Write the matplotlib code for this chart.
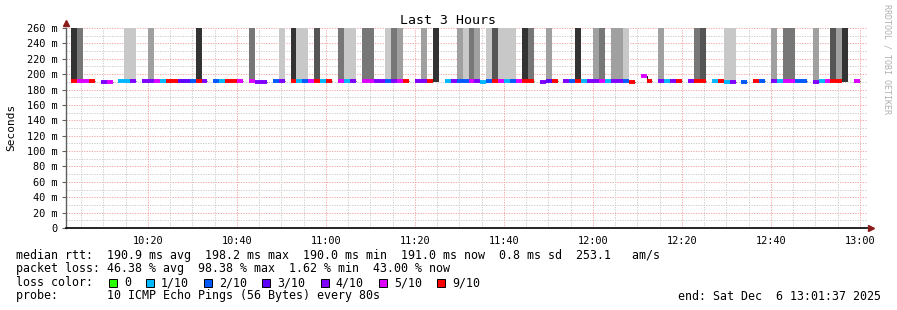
import matplotlib.pyplot as plt
from matplotlib.patches import Rectangle
import numpy as np

# time window (minutes since midnight) and probe steps
start_min = 10 * 60 + 1 + 37 / 60.0     # end - 3 hours
end_min = 13 * 60 + 1 + 37 / 60.0       # Sat Dec  6 13:01:37 2025
first_step = 10 * 60 + 2 + 44 / 60.0
step_min = 80 / 60.0

# loss per step (pings lost out of 10), None = no data
loss = [9, 5, 5, 9, None, 4, 5, None, 1, 1,
        4, None, 4, 4, 5, 1, 9, 9, 3, 3,
        2, 9, 4, None, 2, 1, 9, 9, 5, None,
        5, 4, 4, None, 2, 4, None, 9, 1, 2,
        5, 9, 1, 9, None, 5, 1, 4, None, 5,
        5, 4, 4, 2, 4, 5, 9, None, 4, 4,
        9, None, None, 1, 4, 2, 2, 5, 4, 1,
        2, 9, 5, 1, 2, 5, 9, 9, None, 4,
        3, 9, None, 4, 2, 9, 1, 4, 4, 5,
        1, 4, 4, 2, 9, None, 5, 9, None, 4,
        1, 4, 9, None, 4, 9, 9, None, 1, 9,
        1, 4, None, 2, None, 9, 2, None, 4, 1,
        5, 5, 2, 2, None, 4, 1, 5, 9, 9,
        None, None, 5, None]

# median rtt per step (ms)
median = [191.2, 191.2, 191.2, 191.2, None, 190.4, 189.6, None, 191.2, 191.2,
          191.2, None, 191.2, 191.2, 191.2, 191.2, 191.2, 191.2, 191.2, 191.2,
          191.2, 191.2, 191.2, None, 191.2, 191.2, 191.2, 191.2, 191.2, None,
          191.2, 190.2, 190.2, None, 191.2, 191.2, None, 191.2, 191.2, 191.2,
          191.2, 191.2, 191.2, 191.2, None, 191.2, 191.2, 191.2, None, 191.2,
          191.2, 191.2, 191.2, 191.2, 191.2, 191.2, 191.2, None, 191.2, 191.2,
          191.2, None, None, 190.9, 191.2, 191.2, 191.2, 191.2, 191.2, 190.0,
          191.2, 191.2, 191.2, 191.2, 191.2, 191.2, 191.2, 191.2, None, 190.2,
          191.2, 191.2, None, 191.2, 191.2, 191.2, 191.2, 191.2, 191.2, 191.2,
          191.2, 191.2, 191.2, 191.2, 190.0, None, 198.2, 191.2, None, 191.2,
          191.2, 191.2, 191.2, None, 191.2, 191.2, 191.2, None, 191.2, 190.8,
          190.2, 190.2, None, 190.0, None, 191.2, 191.2, None, 191.2, 191.2,
          191.2, 191.2, 191.2, 191.2, None, 190.2, 191.2, 191.2, 191.2, 191.2,
          None, None, 191.2, None]

# smoke density per step (0 none ... 5 darkest)
smoke = [5, 3, 0, 0, 0, 0, 0, 0, 0, 1,
         1, 0, 0, 2, 0, 0, 0, 0, 0, 0,
         0, 5, 0, 0, 0, 0, 0, 0, 0, 0,
         3, 0, 0, 0, 0, 1, 0, 5, 1, 1,
         0, 4, 0, 0, 0, 3, 1, 1, 0, 3,
         3, 0, 0, 1, 3, 2, 0, 0, 0, 2,
         0, 5, 0, 0, 0, 2, 1, 3, 2, 0,
         1, 4, 1, 1, 1, 0, 5, 3, 0, 0,
         2, 0, 0, 0, 0, 5, 0, 0, 2, 3,
         0, 2, 2, 1, 0, 0, 0, 0, 0, 2,
         0, 0, 0, 0, 0, 3, 4, 0, 0, 0,
         1, 1, 0, 0, 0, 0, 0, 0, 2, 0,
         3, 3, 0, 0, 0, 2, 0, 0, 4, 2,
         5, 0, 0, 0]
smoke_floor = 190.0

x_ticks = [620, 640, 660, 680, 700, 720, 740, 760, 780]
x_labels = ["10:20", "10:40", "11:00", "11:20", "11:40", "12:00", "12:20", "12:40", "13:00"]
y_ticks = list(range(0, 261, 20))

legend_keys = [0, 1, 2, 3, 4, 5, 9]
legend_names = ["0", "1/10", "2/10", "3/10", "4/10", "5/10", "9/10"]

stats_rtt = "median rtt:  190.9 ms avg  198.2 ms max  190.0 ms min  191.0 ms now  0.8 ms sd  253.1   am/s"
stats_loss = "packet loss: 46.38 % avg  98.38 % max  1.62 % min  43.00 % now"
probe_txt = "probe:       10 ICMP Echo Pings (56 Bytes) every 80s"
end_txt = "end: Sat Dec  6 13:01:37 2025"

loss_colors = {0: '#26ff00', 1: '#00b8ff', 2: '#0059ff', 3: '#5e00ff',
               4: '#7e00ff', 5: '#dd00ff', 9: '#ff0000'}
greys = {1: '#c8c8c8', 2: '#a0a0a0', 3: '#777777', 4: '#555555', 5: '#333333'}

W, H = 897, 310
mono = 'DejaVu Sans Mono'
fs = 8.4
fs_tick = 7.4

fig = plt.figure(figsize=(W / 100, H / 100), dpi=100)
ax = fig.add_axes([66 / W, (H - 228) / H, 801 / W, 200 / H])
ax.set_xlim(start_min, end_min)
ax.set_ylim(0, 260)

dots = (0, (1.3, 1.3))
for v in range(10, 261, 10):
    if v % 20 == 0:
        ax.axhline(v, color='#f2a8a8', lw=0.7, ls=dots, zorder=1)
    else:
        ax.axhline(v, color='#cccccc', lw=0.7, ls=dots, zorder=1)
for m in range(605, 782, 5):
    if m % 20 == 0:
        ax.axvline(m, color='#f2a8a8', lw=0.7, ls=dots, zorder=1)
    else:
        ax.axvline(m, color='#cccccc', lw=0.7, ls=dots, zorder=1)

t = first_step + step_min * np.arange(len(loss))

# smoke
for ti, lv, md in zip(t, smoke, median):
    if lv:
        base = md if md is not None else smoke_floor
        ax.bar(ti, 300 - base, bottom=base, width=step_min, align='edge',
               color=greys[lv], linewidth=0, zorder=2)

# thin black median line, per run of consecutive steps
run_x, run_y = [], []
for ti, md in zip(list(t) + [None], median + [None]):
    if md is None:
        if run_x:
            run_x.append(run_x[-1] + step_min)
            run_y.append(run_y[-1])
            ax.plot(run_x, run_y, drawstyle='steps-post', color='#202020', lw=0.8,
                    solid_capstyle='butt', zorder=3)
        run_x, run_y = [], []
    else:
        run_x.append(ti)
        run_y.append(md)

# loss coloured median
for ti, ls_, md in zip(t, loss, median):
    if ls_ is not None and md is not None:
        ax.hlines(md, ti, ti + step_min, color=loss_colors[ls_], lw=2.8,
                  capstyle='butt', zorder=4)

for s in ['top', 'right']:
    ax.spines[s].set_visible(False)
ax.spines['left'].set_color('#606060')
ax.spines['left'].set_linewidth(1.0)
ax.spines['bottom'].set_color('black')
ax.spines['bottom'].set_linewidth(1.2)
ax.plot([0], [1.023], marker='^', ms=5, color='#8b1a1a', transform=ax.transAxes, clip_on=False)
ax.plot([1.0045], [0], marker='>', ms=5, color='#8b1a1a', transform=ax.transAxes, clip_on=False)

ax.set_xticks(x_ticks)
ax.set_xticklabels(x_labels, fontfamily=mono, fontsize=fs_tick)
ax.set_yticks(y_ticks)
ax.set_yticklabels(["0" if v == 0 else f"{v} m" for v in y_ticks], fontfamily=mono, fontsize=fs_tick)
ax.tick_params(axis='x', length=0, pad=6)
ax.tick_params(axis='y', length=3, width=0.8, color='#606060', pad=3)

fig.text(448 / W, 1 - 20 / H, "Last 3 Hours", fontfamily=mono, fontsize=9.5, ha='center', va='center')
fig.text(11 / W, 1 - 127 / H, "Seconds", fontfamily=mono, fontsize=8, rotation=90, ha='center', va='center')
fig.text(887 / W, 1 - 4 / H, "RRDTOOL / TOBI OETIKER", fontfamily=mono, fontsize=6,
         color='#b0b0b0', rotation=270, ha='center', va='top')

fig.text(16 / W, 1 - 255 / H, stats_rtt, fontfamily=mono, fontsize=fs, va='center')
fig.text(16 / W, 1 - 268.5 / H, stats_loss, fontfamily=mono, fontsize=fs, va='center')
fig.text(16 / W, 1 - 282.5 / H, "loss color:", fontfamily=mono, fontsize=fs, va='center')
fig.text(16 / W, 1 - 296 / H, probe_txt, fontfamily=mono, fontsize=fs, va='center')
fig.text(678 / W, 1 - 296 / H, end_txt, fontfamily=mono, fontsize=fs, va='center')

char_w = 7.05
sx = 109
for key, name in zip(legend_keys, legend_names):
    fig.add_artist(Rectangle((sx / W, 1 - 287 / H), 8 / W, 8 / H, transform=fig.transFigure,
                             facecolor=loss_colors[key], edgecolor='black', linewidth=0.7))
    tx = sx + 15
    fig.text(tx / W, 1 - 282.5 / H, name, fontfamily=mono, fontsize=fs, va='center')
    sx = tx + len(name) * char_w + 15

fig.savefig("out.png", dpi=100)
